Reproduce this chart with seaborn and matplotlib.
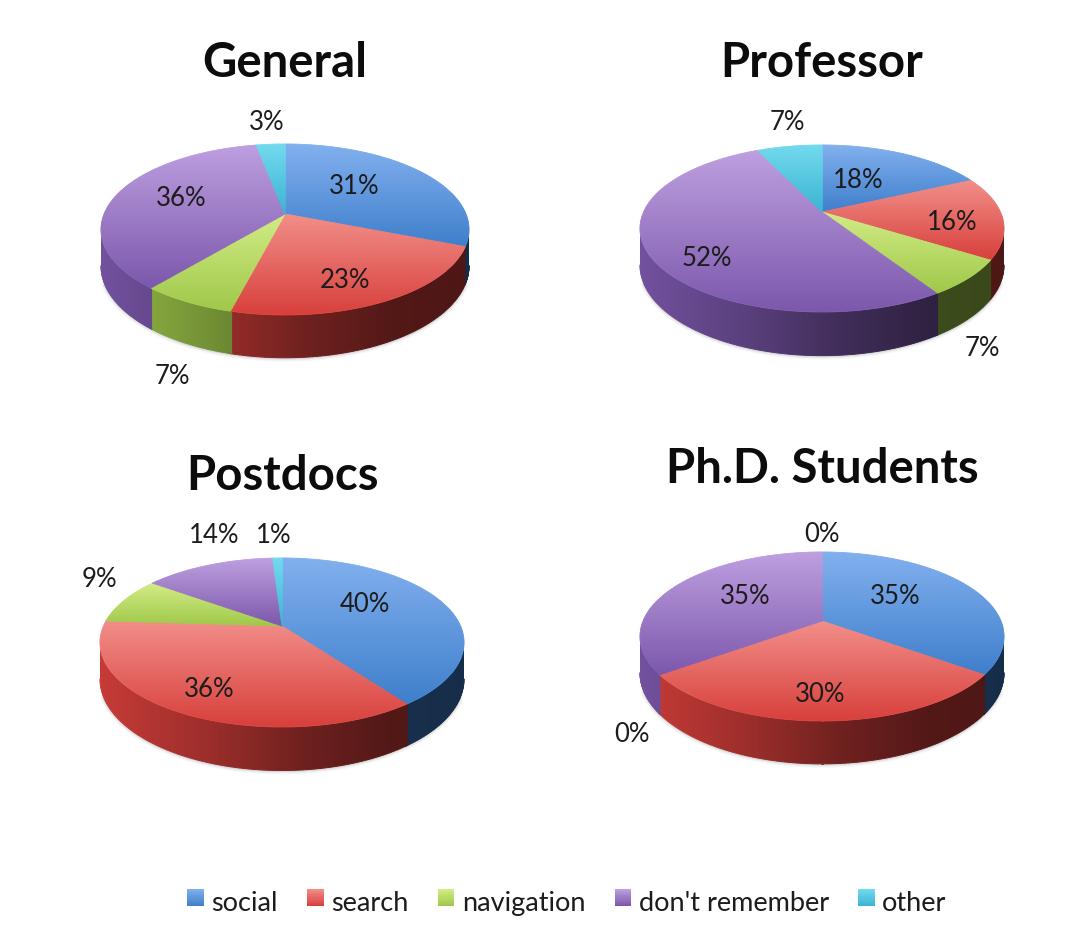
import numpy as np
import matplotlib
matplotlib.use("Agg")
import matplotlib.pyplot as plt
from matplotlib.collections import LineCollection
from matplotlib.colors import ListedColormap, to_rgb
from matplotlib.legend_handler import HandlerBase
from matplotlib.patches import Patch, Polygon, Rectangle
import seaborn as sns

# Survey shares, in percent, per group
categories = ["social", "search", "navigation", "don't remember", "other"]
groups = ["General", "Professor", "Postdocs", "Ph.D. Students"]
general = [31, 23, 7, 36, 3]
professor = [18, 16, 7, 52, 7]
postdocs = [40, 36, 9, 14, 1]
phd_students = [35, 30, 0, 35, 0]
group_values = [general, professor, postdocs, phd_students]

# Slice colours: top and bottom of the face gradient
face_top = ["#82B0EE", "#F28E89", "#D2EC86", "#BE9FE0", "#72DAEE"]
face_bottom = ["#3F7FCC", "#D8403C", "#A0C84A", "#7C58AC", "#3CB4D4"]

WIDTH, HEIGHT = 1076, 937

# Canvas geometry of each disc: hub x, hub y, rise to back rim, drop to front rim, half width, wall
discs = [
    (285, 215, 70, 101, 184, 35),
    (822, 213, 67, 100, 182, 35),
    (282, 627, 68, 101, 182, 35),
    (822, 622, 69, 100, 182, 35),
]
title_xy = [(285, 63), (822, 63), (282, 476), (822, 469)]
label_xy = [
    [(354, 186), (345, 281), (172, 377), (181, 199), (267, 122)],
    [(858, 180), (952, 222), (982, 348), (707, 259), (787, 123)],
    [(365, 605), (209, 690), (99, 580), (214, 536), (274, 536)],
    [(895, 596), (820, 695), (632, 734), (745, 596), (822, 535)],
]

# Wall brightness falls from left to right across the disc
shade_x = [0.0, 0.3, 0.55, 0.8, 1.0]
shade_y = [0.92, 0.72, 0.52, 0.38, 0.36]

sns.set_theme(style="white")
plt.rcParams["font.family"] = ["Lato", "DejaVu Sans"]
TEXT = "#1c1c1c"


def rim(theta, rise, drop, half_width):
    """Project a rim angle, clockwise from the back, onto the tilted disc."""
    p = (drop - rise) / (drop + rise)
    b = rise * (1 + p)
    a = half_width * np.sqrt(1 - p * p)
    denom = 1 + p * np.cos(theta)
    return a * np.sin(theta) / denom, b * np.cos(theta) / denom, 1 / denom


def smooth_outline(ax, points, cmap, levels, zorder, width=0.9):
    """Stroke a clipped region's border so its edge stays antialiased."""
    segments = np.stack([points[:-1], points[1:]], axis=1)
    ax.add_collection(LineCollection(segments, colors=cmap(levels), linewidths=width,
                                     capstyle="round", zorder=zorder))


def draw_walls(ax, values, edges, rise, drop, half_width, wall):
    positions = np.linspace(0, 1, 256)
    # Only the front of the rim, between the two horizontal extremes, shows a wall
    p = (drop - rise) / (drop + rise)
    front_start = np.arccos(-p)
    front_end = 2 * np.pi - front_start
    theta = np.linspace(front_start + 0.2, front_end - 0.2, 200)
    x, y, scale = rim(theta, rise, drop, half_width)
    # Soft contact shadow beneath the front rim
    for width, alpha in [(5, 0.05), (3, 0.08), (1.5, 0.12)]:
        ax.plot(x, y - wall * scale - 0.5, color="#555555", lw=width, alpha=alpha,
                solid_capstyle="round", zorder=0.5)
    for i, value in enumerate(values):
        start = max(edges[i] - 0.008, front_start)
        end = min(edges[i + 1] + 0.008, front_end)
        if value == 0 or end <= start:
            continue
        theta = np.linspace(start, end, max(int(value * 5), 6))
        x, y, scale = rim(theta, rise, drop, half_width)
        low = y - wall * scale
        base = np.array(to_rgb(face_bottom[i]))
        cmap = ListedColormap(np.outer(np.interp(positions, shade_x, shade_y), base))
        points = np.vstack([np.column_stack([x, y]), np.column_stack([x[::-1], low[::-1]])])
        image = ax.imshow(positions[None, :], cmap=cmap, aspect="auto", vmin=0, vmax=1,
                          extent=(-half_width, half_width, -200, 200),
                          zorder=1, interpolation="bilinear")
        image.set_clip_path(Polygon(points, transform=ax.transData))
        lower = np.column_stack([x, low])
        mids = (lower[:-1, 0] + lower[1:, 0]) / 2
        smooth_outline(ax, lower, cmap, (mids + half_width) / (2 * half_width), 1.1, width=0.7)


def draw_faces(ax, values, edges, rise, drop, half_width):
    for i, value in enumerate(values):
        if value == 0:
            continue
        theta = np.linspace(edges[i], edges[i + 1], max(int(value * 5), 6))
        x, y, _ = rim(theta, rise, drop, half_width)
        spoke = np.linspace(0, 1, 30)
        px = np.concatenate([x[0] * spoke, x, x[-1] * spoke[::-1]])
        py = np.concatenate([y[0] * spoke, y, y[-1] * spoke[::-1]])
        cmap = sns.blend_palette([face_top[i], face_bottom[i]], n_colors=128, as_cmap=True)
        image = ax.imshow(np.linspace(0, 1, 128)[:, None], cmap=cmap, aspect="auto",
                          origin="upper", extent=(px.min(), px.max(), py.min(), py.max()),
                          zorder=2 + i * 0.01, interpolation="bilinear")
        image.set_clip_path(Polygon(np.column_stack([px, py]), transform=ax.transData))
        points = np.column_stack([px, py])
        mids = (py[:-1] + py[1:]) / 2
        levels = (py.max() - mids) / max(py.max() - py.min(), 1)
        smooth_outline(ax, points, cmap, levels, 2 + i * 0.01 + 0.001, width=0.6)


class GradientSquare(HandlerBase):
    """Legend key filled with a top-to-bottom blend of the slice colours."""

    def create_artists(self, legend, orig_handle, xdescent, ydescent, width, height, fontsize, trans):
        index = categories.index(orig_handle.get_label())
        shades = sns.blend_palette([face_top[index], face_bottom[index]], n_colors=16)
        step = height / len(shades)
        lift = 2.5
        return [
            Rectangle((-xdescent, -ydescent + lift + height - (k + 1) * step), width, step * 1.05,
                      facecolor=c, edgecolor="none", transform=trans)
            for k, c in enumerate(shades)
        ]


fig = plt.figure(figsize=(WIDTH / 100, HEIGHT / 100), dpi=100, facecolor="white")

for name, values, disc, title, labels in zip(groups, group_values, discs, title_xy, label_xy):
    cx, cy, rise, drop, half_width, wall = disc
    left, right, up, down = 215, 215, 90, 170
    ax = fig.add_axes([(cx - left) / WIDTH, 1 - (cy + down) / HEIGHT,
                       (left + right) / WIDTH, (up + down) / HEIGHT])
    edges = np.cumsum([0] + list(values)) / sum(values) * 2 * np.pi
    draw_walls(ax, values, edges, rise, drop, half_width, wall)
    draw_faces(ax, values, edges, rise, drop, half_width)
    ax.set_xlim(-left, right)
    ax.set_ylim(-down, up)
    ax.axis("off")
    fig.text(title[0] / WIDTH, 1 - title[1] / HEIGHT, name, ha="center", va="center",
             fontsize=34, fontweight="bold", color="#0c0c0c")
    for value, (lx, ly) in zip(values, labels):
        fig.text(lx / WIDTH, 1 - ly / HEIGHT, f"{value}%", ha="center", va="center",
                 fontsize=18.5, color=TEXT)

handles = [Patch(label=n) for n in categories]
fig.legend(
    handles=handles, ncol=5, frameon=False, loc="center",
    bbox_to_anchor=(567 / WIDTH, 1 - 904 / HEIGHT), fontsize=19.5, labelcolor=TEXT,
    handlelength=0.6, handleheight=0.6, handletextpad=0.28, columnspacing=1.09,
    handler_map={Patch: GradientSquare()},
)

fig.savefig("out.png", dpi=100, facecolor="white")
